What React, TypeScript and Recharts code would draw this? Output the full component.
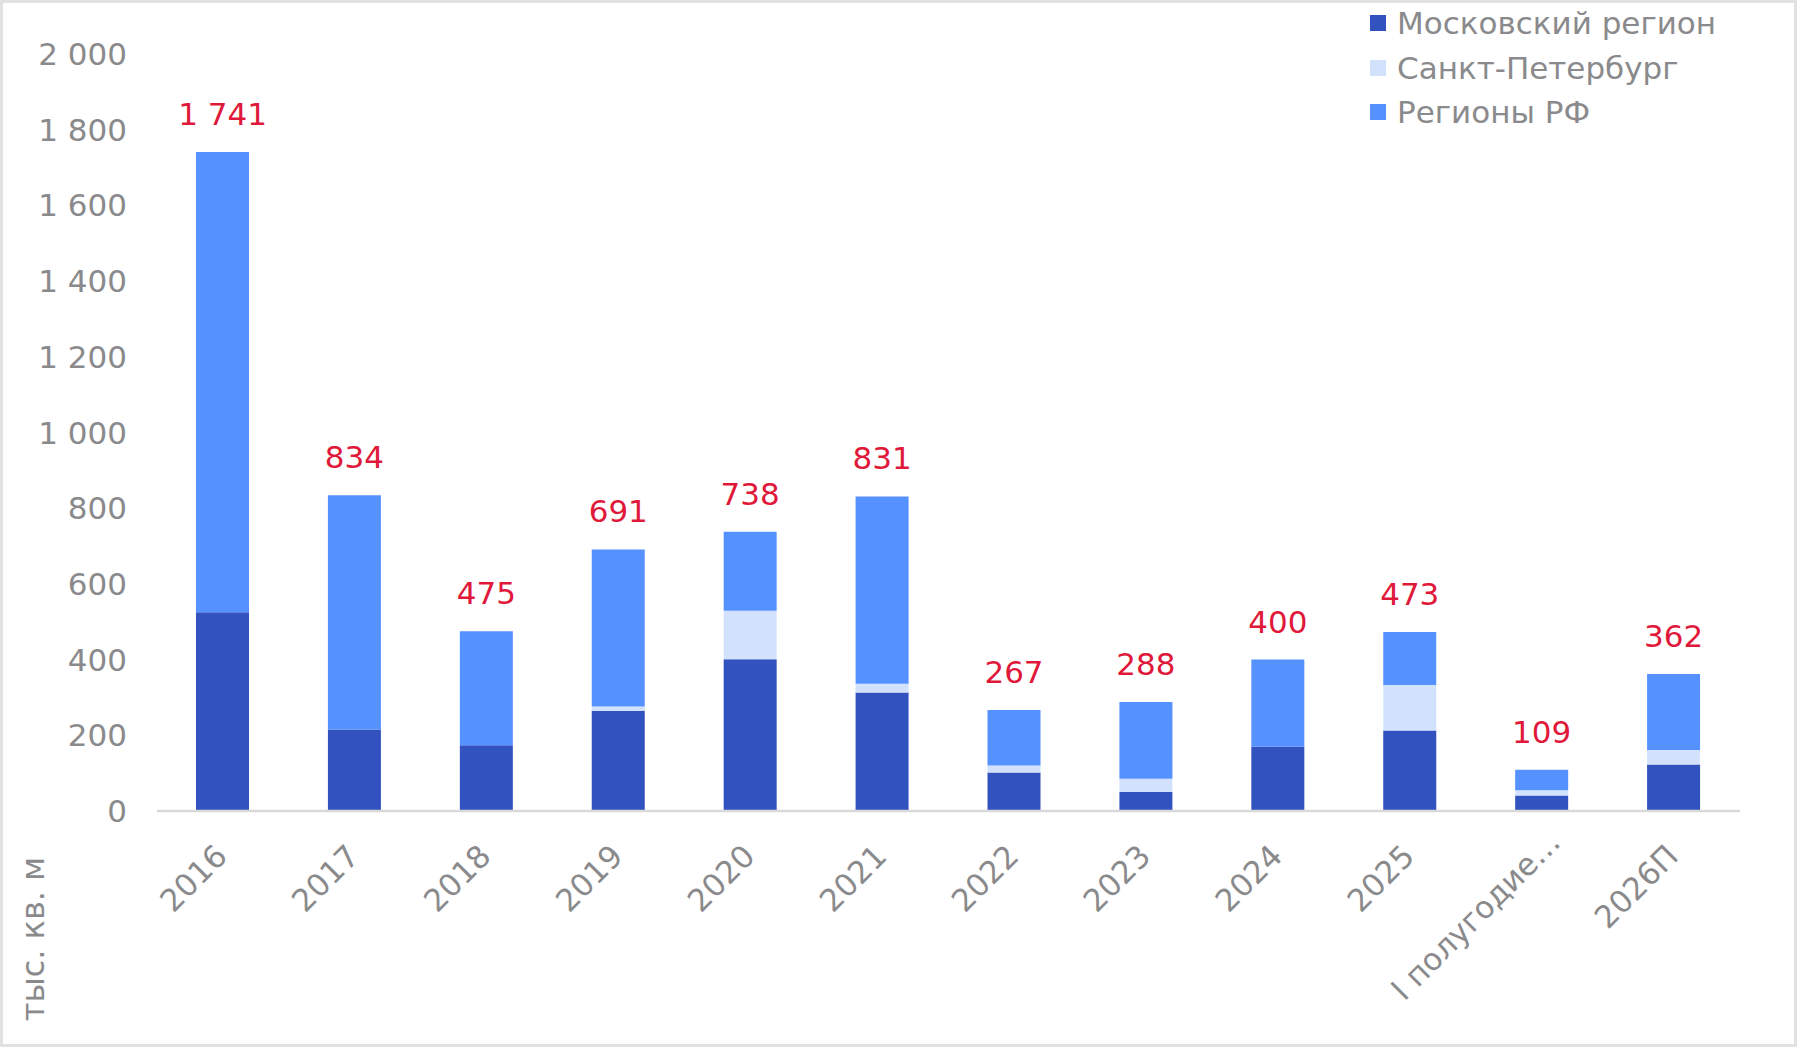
import { Bar, BarChart, LabelList, XAxis, YAxis } from "recharts";

const categories = [
	"2016",
	"2017",
	"2018",
	"2019",
	"2020",
	"2021",
	"2022",
	"2023",
	"2024",
	"2025",
	"I полугодие…",
	"2026П",
];
const moscow = [525, 215, 174, 265, 401, 313, 102, 50, 170, 213, 41, 123];
const spb = [0, 0, 0, 11, 128, 23, 18, 35, 0, 120, 14, 38];
const regionsRf = [1216, 619, 301, 415, 209, 495, 147, 203, 230, 140, 54, 201];
const totals = [1741, 834, 475, 691, 738, 831, 267, 288, 400, 473, 109, 362];
const yTicks = [0, 200, 400, 600, 800, 1000, 1200, 1400, 1600, 1800, 2000];
const seriesNames = ["Московский регион", "Санкт-Петербург", "Регионы РФ"];
const seriesColors = ["#3252bf", "#d3e2fc", "#5692ff"];

const FONT = '"DejaVu Sans", Verdana, sans-serif';
const GREY = "#8a8a8c";
const RED = "#e0183a";

const data = categories.map((label, i) => ({
	label,
	moscow: moscow[i],
	spb: spb[i],
	regions: regionsRf[i],
	total: totals[i],
}));

function fmt(n: number) {
	if (n < 1000) return String(n);
	return `${Math.floor(n / 1000)} ${String(n % 1000).padStart(3, "0")}`;
}

function XTick(props: any) {
	const { x, y, payload } = props;
	// truncated labels sit a bit further along the slant, like in Excel
	const shift = String(payload.value).endsWith("…") ? 14 : 0;
	const ax = x + 6 + shift;
	const ay = y + 47 - shift;
	return (
		<text
			x={ax}
			y={ay}
			transform={`rotate(-45 ${ax} ${ay})`}
			textAnchor="end"
			fill={GREY}
			fontSize={31}
			fontFamily={FONT}
		>
			{payload.value}
		</text>
	);
}

function TotalLabel(props: any) {
	const { x, y, width, index } = props;
	return (
		<text
			x={x + width / 2}
			y={y - 27}
			textAnchor="middle"
			fill={RED}
			fontSize={31}
			fontFamily={FONT}
		>
			{fmt(totals[index])}
		</text>
	);
}

export default function App() {
	return (
		<div
			style={{
				position: "absolute",
				left: 0,
				top: 0,
				width: 1797,
				height: 1047,
				background: "#fff",
				fontFamily: FONT,
			}}
		>
			<BarChart
				width={1797}
				height={1047}
				data={data}
				margin={{ top: 54, right: 57, bottom: 0, left: 0 }}
			>
				<XAxis
					dataKey="label"
					interval={0}
					height={236}
					tickLine={false}
					tickSize={0}
					tickMargin={0}
					axisLine={{ stroke: "#d9d9d9", strokeWidth: 2.5 }}
					tick={<XTick />}
				/>
				<YAxis
					width={157}
					domain={[0, 2000]}
					ticks={yTicks}
					tickFormatter={fmt}
					axisLine={false}
					tickLine={false}
					tickSize={0}
					tickMargin={30}
					tick={{ fill: GREY, fontSize: 31, fontFamily: FONT }}
					label={{
						content: () => (
							<text
								x={44}
								y={939}
								transform="rotate(-90 44 939)"
								textAnchor="middle"
								fill={GREY}
								fontSize={32}
								fontFamily={FONT}
							>
								тыс. кв. м
							</text>
						),
					}}
				/>
				<Bar dataKey="moscow" stackId="a" barSize={53} fill={seriesColors[0]} isAnimationActive={false} />
				<Bar dataKey="spb" stackId="a" barSize={53} fill={seriesColors[1]} isAnimationActive={false} />
				<Bar dataKey="regions" stackId="a" barSize={53} fill={seriesColors[2]} isAnimationActive={false}>
					<LabelList dataKey="total" content={<TotalLabel />} />
				</Bar>
			</BarChart>

			<div style={{ position: "absolute", left: 1370, top: 1 }}>
				{seriesNames.map((name, i) => (
					<div
						key={name}
						style={{
							display: "flex",
							alignItems: "center",
							height: 44.5,
							lineHeight: "44.5px",
							fontSize: 31,
							color: GREY,
							whiteSpace: "nowrap",
						}}
					>
						<span
							style={{
								display: "inline-block",
								width: 16,
								height: 16,
								background: seriesColors[i],
								marginRight: 11,
							}}
						/>
						{name}
					</div>
				))}
			</div>

			<div
				style={{
					position: "absolute",
					inset: 0,
					border: "3px solid #e2e2e2",
					pointerEvents: "none",
				}}
			/>
		</div>
	);
}
